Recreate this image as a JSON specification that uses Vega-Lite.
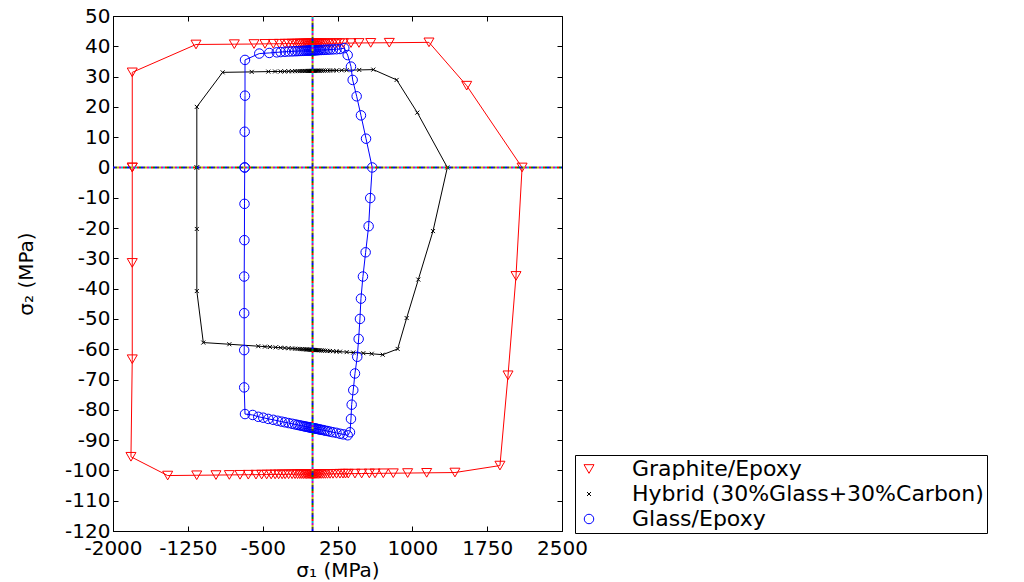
{
"$schema":"https://vega.github.io/schema/vega-lite/v6.json",
"width":449,"height":515,"autosize":"none",
"padding":{"left":113,"top":16,"right":462,"bottom":51},
"background":"white",
"config":{
 "view":{"stroke":"black","strokeWidth":1},
 "axis":{"labelFont":"DejaVu Sans","labelFontSize":20,"labelColor":"#000","titleFont":"DejaVu Sans","titleFontSize":20,"titleFontWeight":"normal","titleColor":"#000","domainColor":"#000","tickColor":"#000","tickWidth":1,"tickSize":-5,"grid":false,"labelFlush":false,"labelOverlap":false},
 "axisY":{"labelOverlap":false,"labelSeparation":0},
 "axisLeft":{"labelOverlap":false},
 "legend":{"orient":"none","legendX":462,"legendY":439,"direction":"vertical","labelFont":"DejaVu Sans","labelFontSize":22,"labelColor":"#000","labelLimit":0,"strokeColor":"#000","fillColor":"#fff","padding":3,"symbolSize":400,"labelOffset":32,"rowPadding":3,"symbolStrokeWidth":1,"symbolFillColor":"transparent"}
},
"datasets":{
"ref":[{"x":0,"y":-120,"x2":0,"y2":50},{"x":-2000,"y":0,"x2":2500,"y2":0}],
"curves":[
{"s":"GE","i":1,"x":-1807,"y":0},{"s":"GE","i":2,"x":-1807,"y":31.4},{"s":"GE","i":3,"x":-1168,"y":40.6},{"s":"GE","i":4,"x":-784,"y":40.7},{"s":"GE","i":5,"x":-587,"y":40.75},{"s":"GE","i":6,"x":-477,"y":40.8},{"s":"GE","i":7,"x":-393,"y":40.83},{"s":"GE","i":8,"x":-333,"y":40.85},{"s":"GE","i":9,"x":-276,"y":40.87},
{"s":"GE","i":10,"x":-240,"y":40.88},{"s":"GE","i":11,"x":-205,"y":40.89},{"s":"GE","i":12,"x":-175,"y":40.9},{"s":"GE","i":13,"x":-150,"y":40.9},{"s":"GE","i":14,"x":-128,"y":40.91},{"s":"GE","i":15,"x":-108,"y":40.92},{"s":"GE","i":16,"x":-90,"y":40.92},{"s":"GE","i":17,"x":-74,"y":40.93},{"s":"GE","i":18,"x":-60,"y":40.93},{"s":"GE","i":19,"x":-47,"y":40.94},{"s":"GE","i":20,"x":-35,"y":40.94},{"s":"GE","i":21,"x":-24,"y":40.94},{"s":"GE","i":22,"x":-14,"y":40.95},{"s":"GE","i":23,"x":-5,"y":40.95},{"s":"GE","i":24,"x":5,"y":40.95},{"s":"GE","i":25,"x":14,"y":40.95},{"s":"GE","i":26,"x":24,"y":40.96},{"s":"GE","i":27,"x":35,"y":40.96},{"s":"GE","i":28,"x":47,"y":40.96},{"s":"GE","i":29,"x":60,"y":40.97},{"s":"GE","i":30,"x":74,"y":40.97},{"s":"GE","i":31,"x":90,"y":40.98},{"s":"GE","i":32,"x":108,"y":40.98},{"s":"GE","i":33,"x":128,"y":40.99},{"s":"GE","i":34,"x":150,"y":41.0},{"s":"GE","i":35,"x":175,"y":41.0},{"s":"GE","i":36,"x":205,"y":41.01},{"s":"GE","i":37,"x":240,"y":41.02},{"s":"GE","i":38,"x":270,"y":41.03},
{"s":"GE","i":39,"x":308,"y":41.05},{"s":"GE","i":40,"x":385,"y":41.07},{"s":"GE","i":41,"x":465,"y":41.1},{"s":"GE","i":42,"x":583,"y":41.13},{"s":"GE","i":43,"x":769,"y":41.18},{"s":"GE","i":44,"x":1167,"y":41.3},{"s":"GE","i":45,"x":1545,"y":27.0},{"s":"GE","i":46,"x":2100,"y":0},{"s":"GE","i":47,"x":2039,"y":-35.8},{"s":"GE","i":48,"x":1959,"y":-68.6},{"s":"GE","i":49,"x":1878,"y":-98.4},{"s":"GE","i":50,"x":1427,"y":-100.7},{"s":"GE","i":51,"x":1144,"y":-100.8},{"s":"GE","i":52,"x":953,"y":-100.87},{"s":"GE","i":53,"x":809,"y":-100.92},{"s":"GE","i":54,"x":709,"y":-100.95},{"s":"GE","i":55,"x":626,"y":-100.98},{"s":"GE","i":56,"x":569,"y":-101.0},{"s":"GE","i":57,"x":492,"y":-101.03},{"s":"GE","i":58,"x":425,"y":-101.05},{"s":"GE","i":59,"x":358,"y":-101.07},{"s":"GE","i":60,"x":330,"y":-101.08},{"s":"GE","i":61,"x":305,"y":-101.09},{"s":"GE","i":62,"x":275,"y":-101.1},
{"s":"GE","i":63,"x":240,"y":-101.12},{"s":"GE","i":64,"x":205,"y":-101.13},{"s":"GE","i":65,"x":175,"y":-101.14},{"s":"GE","i":66,"x":150,"y":-101.15},{"s":"GE","i":67,"x":128,"y":-101.16},{"s":"GE","i":68,"x":108,"y":-101.16},{"s":"GE","i":69,"x":90,"y":-101.17},{"s":"GE","i":70,"x":74,"y":-101.17},{"s":"GE","i":71,"x":60,"y":-101.18},{"s":"GE","i":72,"x":47,"y":-101.18},{"s":"GE","i":73,"x":35,"y":-101.19},{"s":"GE","i":74,"x":24,"y":-101.19},{"s":"GE","i":75,"x":14,"y":-101.2},{"s":"GE","i":76,"x":5,"y":-101.2},{"s":"GE","i":77,"x":-5,"y":-101.2},{"s":"GE","i":78,"x":-14,"y":-101.2},{"s":"GE","i":79,"x":-24,"y":-101.21},{"s":"GE","i":80,"x":-35,"y":-101.21},{"s":"GE","i":81,"x":-47,"y":-101.22},{"s":"GE","i":82,"x":-60,"y":-101.22},{"s":"GE","i":83,"x":-74,"y":-101.23},{"s":"GE","i":84,"x":-90,"y":-101.23},{"s":"GE","i":85,"x":-108,"y":-101.24},{"s":"GE","i":86,"x":-128,"y":-101.24},{"s":"GE","i":87,"x":-150,"y":-101.25},{"s":"GE","i":88,"x":-175,"y":-101.26},{"s":"GE","i":89,"x":-205,"y":-101.27},{"s":"GE","i":90,"x":-240,"y":-101.28},
{"s":"GE","i":91,"x":-275,"y":-101.3},{"s":"GE","i":92,"x":-305,"y":-101.31},{"s":"GE","i":93,"x":-340,"y":-101.32},{"s":"GE","i":94,"x":-375,"y":-101.33},{"s":"GE","i":95,"x":-415,"y":-101.35},{"s":"GE","i":96,"x":-460,"y":-101.36},{"s":"GE","i":97,"x":-510,"y":-101.38},{"s":"GE","i":98,"x":-567,"y":-101.4},{"s":"GE","i":99,"x":-644,"y":-101.42},{"s":"GE","i":100,"x":-727,"y":-101.45},{"s":"GE","i":101,"x":-834,"y":-101.49},{"s":"GE","i":102,"x":-968,"y":-101.54},{"s":"GE","i":103,"x":-1161,"y":-101.6},{"s":"GE","i":104,"x":-1452,"y":-101.7},{"s":"GE","i":105,"x":-1820,"y":-95.5},{"s":"GE","i":106,"x":-1807,"y":-63.3},{"s":"GE","i":107,"x":-1807,"y":-31.5},{"s":"GE","i":108,"x":-1807,"y":0},
{"s":"HY","i":1,"x":-1160,"y":0},{"s":"HY","i":2,"x":-1160,"y":20},{"s":"HY","i":3,"x":-901,"y":31.4},{"s":"HY","i":4,"x":-610,"y":31.55},{"s":"HY","i":5,"x":-443,"y":31.65},{"s":"HY","i":6,"x":-376,"y":31.68},{"s":"HY","i":7,"x":-320,"y":31.7},{"s":"HY","i":8,"x":-280,"y":31.72},{"s":"HY","i":9,"x":-240,"y":31.75},{"s":"HY","i":10,"x":-205,"y":31.77},{"s":"HY","i":11,"x":-175,"y":31.8},{"s":"HY","i":12,"x":-150,"y":31.81},{"s":"HY","i":13,"x":-128,"y":31.82},{"s":"HY","i":14,"x":-108,"y":31.84},{"s":"HY","i":15,"x":-90,"y":31.85},{"s":"HY","i":16,"x":-74,"y":31.86},{"s":"HY","i":17,"x":-60,"y":31.86},{"s":"HY","i":18,"x":-47,"y":31.87},{"s":"HY","i":19,"x":-35,"y":31.88},{"s":"HY","i":20,"x":-24,"y":31.89},{"s":"HY","i":21,"x":-14,"y":31.89},{"s":"HY","i":22,"x":-5,"y":31.9},{"s":"HY","i":23,"x":5,"y":31.9},{"s":"HY","i":24,"x":14,"y":31.91},{"s":"HY","i":25,"x":24,"y":31.91},{"s":"HY","i":26,"x":35,"y":31.92},{"s":"HY","i":27,"x":47,"y":31.93},{"s":"HY","i":28,"x":60,"y":31.94},{"s":"HY","i":29,"x":74,"y":31.94},{"s":"HY","i":30,"x":90,"y":31.95},{"s":"HY","i":31,"x":108,"y":31.96},{"s":"HY","i":32,"x":128,"y":31.98},{"s":"HY","i":33,"x":150,"y":31.99},{"s":"HY","i":34,"x":175,"y":32.0},{"s":"HY","i":35,"x":205,"y":32.02},{"s":"HY","i":36,"x":240,"y":32.04},{"s":"HY","i":37,"x":292,"y":32.08},{"s":"HY","i":38,"x":342,"y":32.1},{"s":"HY","i":39,"x":468,"y":32.2},{"s":"HY","i":40,"x":609,"y":32.3},{"s":"HY","i":41,"x":843,"y":28.9},{"s":"HY","i":42,"x":1050,"y":18.1},{"s":"HY","i":43,"x":1351,"y":0},{"s":"HY","i":44,"x":1207,"y":-21},{"s":"HY","i":45,"x":1060,"y":-37},{"s":"HY","i":46,"x":943,"y":-49.7},{"s":"HY","i":47,"x":853,"y":-59.9},{"s":"HY","i":48,"x":703,"y":-61.8},{"s":"HY","i":49,"x":593,"y":-61.5},{"s":"HY","i":50,"x":509,"y":-61.3},{"s":"HY","i":51,"x":408,"y":-61.1},{"s":"HY","i":52,"x":342,"y":-60.95},{"s":"HY","i":53,"x":275,"y":-60.8},{"s":"HY","i":54,"x":240,"y":-60.73},{"s":"HY","i":55,"x":205,"y":-60.66},{"s":"HY","i":56,"x":175,"y":-60.59},{"s":"HY","i":57,"x":150,"y":-60.53},{"s":"HY","i":58,"x":128,"y":-60.48},{"s":"HY","i":59,"x":108,"y":-60.44},{"s":"HY","i":60,"x":90,"y":-60.4},{"s":"HY","i":61,"x":74,"y":-60.36},{"s":"HY","i":62,"x":60,"y":-60.33},{"s":"HY","i":63,"x":47,"y":-60.3},{"s":"HY","i":64,"x":35,"y":-60.28},{"s":"HY","i":65,"x":24,"y":-60.25},{"s":"HY","i":66,"x":14,"y":-60.23},{"s":"HY","i":67,"x":5,"y":-60.21},{"s":"HY","i":68,"x":-5,"y":-60.19},{"s":"HY","i":69,"x":-14,"y":-60.17},{"s":"HY","i":70,"x":-24,"y":-60.15},{"s":"HY","i":71,"x":-35,"y":-60.12},{"s":"HY","i":72,"x":-47,"y":-60.1},{"s":"HY","i":73,"x":-60,"y":-60.07},{"s":"HY","i":74,"x":-74,"y":-60.04},{"s":"HY","i":75,"x":-90,"y":-60.0},{"s":"HY","i":76,"x":-108,"y":-59.96},{"s":"HY","i":77,"x":-128,"y":-59.92},{"s":"HY","i":78,"x":-150,"y":-59.87},{"s":"HY","i":79,"x":-175,"y":-59.81},{"s":"HY","i":80,"x":-205,"y":-59.75},{"s":"HY","i":81,"x":-240,"y":-59.67},{"s":"HY","i":82,"x":-280,"y":-59.58},{"s":"HY","i":83,"x":-320,"y":-59.49},{"s":"HY","i":84,"x":-370,"y":-59.38},{"s":"HY","i":85,"x":-427,"y":-59.25},{"s":"HY","i":86,"x":-477,"y":-59.14},{"s":"HY","i":87,"x":-544,"y":-59.0},{"s":"HY","i":88,"x":-834,"y":-58.35},{"s":"HY","i":89,"x":-1095,"y":-57.8},{"s":"HY","i":90,"x":-1160,"y":-40.8},{"s":"HY","i":91,"x":-1160,"y":-20.3},{"s":"HY","i":92,"x":-1160,"y":0},
{"s":"GL","i":1,"x":-680,"y":0},{"s":"GL","i":2,"x":-680,"y":11.8},{"s":"GL","i":3,"x":-677,"y":23.7},{"s":"GL","i":4,"x":-677,"y":35.5},{"s":"GL","i":5,"x":-534,"y":37.6},{"s":"GL","i":6,"x":-434,"y":37.8},{"s":"GL","i":7,"x":-359,"y":38.0},{"s":"GL","i":8,"x":-319,"y":38.1},{"s":"GL","i":9,"x":-276,"y":38.2},{"s":"GL","i":10,"x":-240,"y":38.27},{"s":"GL","i":11,"x":-205,"y":38.32},{"s":"GL","i":12,"x":-175,"y":38.37},{"s":"GL","i":13,"x":-150,"y":38.41},{"s":"GL","i":14,"x":-128,"y":38.45},{"s":"GL","i":15,"x":-108,"y":38.48},{"s":"GL","i":16,"x":-90,"y":38.5},{"s":"GL","i":17,"x":-74,"y":38.53},{"s":"GL","i":18,"x":-60,"y":38.55},{"s":"GL","i":19,"x":-47,"y":38.57},{"s":"GL","i":20,"x":-35,"y":38.59},{"s":"GL","i":21,"x":-24,"y":38.61},{"s":"GL","i":22,"x":-14,"y":38.63},{"s":"GL","i":23,"x":-5,"y":38.64},{"s":"GL","i":24,"x":5,"y":38.66},{"s":"GL","i":25,"x":14,"y":38.67},{"s":"GL","i":26,"x":24,"y":38.69},{"s":"GL","i":27,"x":35,"y":38.71},{"s":"GL","i":28,"x":47,"y":38.73},{"s":"GL","i":29,"x":60,"y":38.75},{"s":"GL","i":30,"x":74,"y":38.77},{"s":"GL","i":31,"x":90,"y":38.79},{"s":"GL","i":32,"x":108,"y":38.82},{"s":"GL","i":33,"x":128,"y":38.85},{"s":"GL","i":34,"x":150,"y":38.89},{"s":"GL","i":35,"x":175,"y":38.93},{"s":"GL","i":36,"x":205,"y":38.98},{"s":"GL","i":37,"x":240,"y":39.03},{"s":"GL","i":38,"x":275,"y":39.1},{"s":"GL","i":39,"x":318,"y":39.4},{"s":"GL","i":40,"x":352,"y":37.1},{"s":"GL","i":41,"x":385,"y":33.3},{"s":"GL","i":42,"x":402,"y":28.9},{"s":"GL","i":43,"x":442,"y":23.5},{"s":"GL","i":44,"x":485,"y":17.2},{"s":"GL","i":45,"x":536,"y":9.5},{"s":"GL","i":46,"x":598,"y":0},{"s":"GL","i":47,"x":578,"y":-10.1},{"s":"GL","i":48,"x":562,"y":-19.4},{"s":"GL","i":49,"x":532,"y":-28},{"s":"GL","i":50,"x":505,"y":-36},{"s":"GL","i":51,"x":485,"y":-43.3},{"s":"GL","i":52,"x":475,"y":-50},{"s":"GL","i":53,"x":462,"y":-56.6},{"s":"GL","i":54,"x":448,"y":-62.5},{"s":"GL","i":55,"x":425,"y":-68},{"s":"GL","i":56,"x":408,"y":-73.5},{"s":"GL","i":57,"x":392,"y":-78.3},{"s":"GL","i":58,"x":385,"y":-83},{"s":"GL","i":59,"x":375,"y":-87.4},{"s":"GL","i":60,"x":352,"y":-88.4},{"s":"GL","i":61,"x":308,"y":-88.1},{"s":"GL","i":62,"x":275,"y":-87.9},{"s":"GL","i":63,"x":240,"y":-87.6},{"s":"GL","i":64,"x":205,"y":-87.4},{"s":"GL","i":65,"x":175,"y":-87.2},{"s":"GL","i":66,"x":150,"y":-87.0},{"s":"GL","i":67,"x":128,"y":-86.9},{"s":"GL","i":68,"x":108,"y":-86.7},{"s":"GL","i":69,"x":90,"y":-86.6},{"s":"GL","i":70,"x":74,"y":-86.5},{"s":"GL","i":71,"x":60,"y":-86.4},{"s":"GL","i":72,"x":47,"y":-86.3},{"s":"GL","i":73,"x":35,"y":-86.2},{"s":"GL","i":74,"x":24,"y":-86.16},{"s":"GL","i":75,"x":14,"y":-86.1},{"s":"GL","i":76,"x":5,"y":-86.03},{"s":"GL","i":77,"x":-5,"y":-85.97},{"s":"GL","i":78,"x":-14,"y":-85.9},{"s":"GL","i":79,"x":-24,"y":-85.84},{"s":"GL","i":80,"x":-35,"y":-85.76},{"s":"GL","i":81,"x":-47,"y":-85.68},{"s":"GL","i":82,"x":-60,"y":-85.6},{"s":"GL","i":83,"x":-74,"y":-85.5},{"s":"GL","i":84,"x":-90,"y":-85.4},{"s":"GL","i":85,"x":-108,"y":-85.27},{"s":"GL","i":86,"x":-128,"y":-85.13},{"s":"GL","i":87,"x":-150,"y":-84.98},{"s":"GL","i":88,"x":-175,"y":-84.81},{"s":"GL","i":89,"x":-205,"y":-84.6},{"s":"GL","i":90,"x":-240,"y":-84.37},{"s":"GL","i":91,"x":-276,"y":-84.12},{"s":"GL","i":92,"x":-310,"y":-83.9},{"s":"GL","i":93,"x":-350,"y":-83.62},{"s":"GL","i":94,"x":-394,"y":-83.3},{"s":"GL","i":95,"x":-444,"y":-83.0},{"s":"GL","i":96,"x":-494,"y":-82.6},{"s":"GL","i":97,"x":-544,"y":-82.3},{"s":"GL","i":98,"x":-600,"y":-81.7},{"s":"GL","i":99,"x":-677,"y":-81.4},{"s":"GL","i":100,"x":-685,"y":-72.6},{"s":"GL","i":101,"x":-685,"y":-60.3},{"s":"GL","i":102,"x":-685,"y":-48.1},{"s":"GL","i":103,"x":-685,"y":-36},{"s":"GL","i":104,"x":-683,"y":-24},{"s":"GL","i":105,"x":-682,"y":-12},{"s":"GL","i":106,"x":-680,"y":0}
]},
"layer":[
  {"data":{"name":"curves"},"mark":{"type":"line","strokeWidth":1},
   "encoding":{
    "x":{"field":"x","type":"quantitative","scale":{"domain":[-2000,2500],"nice":false,"zero":false},"axis":{"orient":"bottom","values":[-2000,-1250,-500,250,1000,1750,2500],"labelExpr":"'' + datum.value","labelOverlap":false,"title":"σ₁ (MPa)","labelPadding":12,"titlePadding":2}},
    "y":{"field":"y","type":"quantitative","scale":{"domain":[-120,50],"nice":false,"zero":false},"axis":{"orient":"left","values":[-120,-110,-100,-90,-80,-70,-60,-50,-40,-30,-20,-10,0,10,20,30,40,50],"labelExpr":"'' + datum.value","labelOverlap":false,"labelSeparation":0,"title":"σ₂ (MPa)","labelPadding":8,"titlePadding":28}},
    "color":{"field":"s","type":"nominal","scale":{"domain":["GE","HY","GL"],"range":["#ff0000","#000000","#0000ff"]},
      "legend":{"title":null,
        "labelExpr":"datum.value=='GE'?'Graphite/Epoxy':datum.value=='HY'?'Hybrid (30%Glass+30%Carbon)':'Glass/Epoxy'"}},
    "order":{"field":"i","type":"quantitative"}
   }},
  {"data":{"name":"curves"},"mark":{"type":"point","filled":false,"strokeWidth":1,"opacity":1},
   "encoding":{
    "x":{"field":"x","type":"quantitative","axis":null},
    "y":{"field":"y","type":"quantitative","axis":null},
    "color":{"field":"s","type":"nominal",
      "legend":{"title":null,
        "labelExpr":"datum.value=='GE'?'Graphite/Epoxy':datum.value=='HY'?'Hybrid (30%Glass+30%Carbon)':'Glass/Epoxy'"}},
    "shape":{"field":"s","type":"nominal","scale":{"domain":["GE","HY","GL"],"range":["triangle-down","M-1,-1L1,1M-1,1L1,-1","circle"]},"legend":null},
    "size":{"field":"s","type":"nominal","scale":{"type":"ordinal","domain":["GE","HY","GL"],"range":[100,16,90]},"legend":null}
   }},
  {"data":{"name":"ref"},"mark":{"type":"rule","color":"#0000ff","strokeWidth":2,"strokeDash":[2,12],"strokeDashOffset":0},"encoding":{"x":{"field":"x","type":"quantitative","axis":null},"y":{"field":"y","type":"quantitative","axis":null},"x2":{"field":"x2"},"y2":{"field":"y2"}}},
  {"data":{"name":"ref"},"mark":{"type":"rule","color":"#008000","strokeWidth":2,"strokeDash":[2,12],"strokeDashOffset":2},"encoding":{"x":{"field":"x","type":"quantitative","axis":null},"y":{"field":"y","type":"quantitative","axis":null},"x2":{"field":"x2"},"y2":{"field":"y2"}}},
  {"data":{"name":"ref"},"mark":{"type":"rule","color":"#ff0000","strokeWidth":2,"strokeDash":[2,12],"strokeDashOffset":4},"encoding":{"x":{"field":"x","type":"quantitative","axis":null},"y":{"field":"y","type":"quantitative","axis":null},"x2":{"field":"x2"},"y2":{"field":"y2"}}},
  {"data":{"name":"ref"},"mark":{"type":"rule","color":"#00bfbf","strokeWidth":2,"strokeDash":[2,12],"strokeDashOffset":6},"encoding":{"x":{"field":"x","type":"quantitative","axis":null},"y":{"field":"y","type":"quantitative","axis":null},"x2":{"field":"x2"},"y2":{"field":"y2"}}},
  {"data":{"name":"ref"},"mark":{"type":"rule","color":"#bf00bf","strokeWidth":2,"strokeDash":[2,12],"strokeDashOffset":8},"encoding":{"x":{"field":"x","type":"quantitative","axis":null},"y":{"field":"y","type":"quantitative","axis":null},"x2":{"field":"x2"},"y2":{"field":"y2"}}},
  {"data":{"name":"ref"},"mark":{"type":"rule","color":"#bfbf00","strokeWidth":2,"strokeDash":[2,12],"strokeDashOffset":10},"encoding":{"x":{"field":"x","type":"quantitative","axis":null},"y":{"field":"y","type":"quantitative","axis":null},"x2":{"field":"x2"},"y2":{"field":"y2"}}},
  {"data":{"name":"ref"},"mark":{"type":"rule","color":"#404040","strokeWidth":2,"strokeDash":[2,12],"strokeDashOffset":12},"encoding":{"x":{"field":"x","type":"quantitative","axis":null},"y":{"field":"y","type":"quantitative","axis":null},"x2":{"field":"x2"},"y2":{"field":"y2"}}},
  {"data":{"name":"ref"},"mark":{"type":"point","opacity":0},
   "encoding":{
    "x":{"field":"x","type":"quantitative","axis":{"orient":"top","values":[-2000,-1250,-500,250,1000,1750,2500],"labels":false,"title":null,"domain":false}},
    "y":{"field":"y","type":"quantitative","axis":{"orient":"right","values":[-120,-110,-100,-90,-80,-70,-60,-50,-40,-30,-20,-10,0,10,20,30,40,50],"labels":false,"title":null,"domain":false}}
   }}
],
"resolve":{"axis":{"x":"independent","y":"independent"}}
}
